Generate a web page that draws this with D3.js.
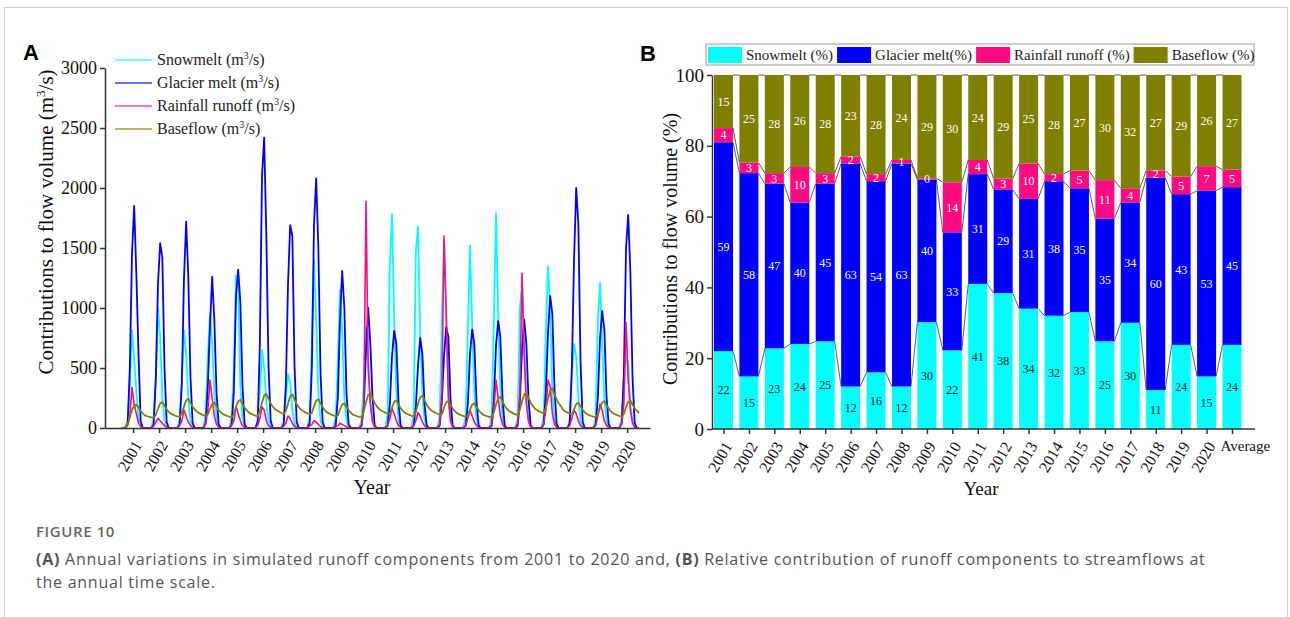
<!DOCTYPE html>
<html>
<head>
<meta charset="utf-8">
<script src="https://cdn.jsdelivr.net/npm/d3@7"></script>
<style>
  body { margin: 0; background: #fff; }
  svg { display: block; }
</style>
</head>
<body>
<svg id="fig" width="1290" height="617"></svg>

<script>
// ---------- data, panel A (monthly values, m3/s, Jan..Dec for each year) ----------
var years = [2001, 2002, 2003, 2004, 2005, 2006, 2007, 2008, 2009, 2010,
             2011, 2012, 2013, 2014, 2015, 2016, 2017, 2018, 2019, 2020];

var snowmelt = [
  [0,0,10,60,350,815,570,300,80,10,0,0],
  [0,0,10,80,420,1000,760,260,60,10,0,0],
  [0,0,10,70,380,815,620,240,60,10,0,0],
  [0,0,10,120,600,955,700,300,80,10,0,0],
  [0,0,10,90,500,1270,1200,350,80,10,0,0],
  [0,0,10,60,300,650,500,200,60,10,0,0],
  [0,0,10,50,250,450,380,150,40,10,0,0],
  [0,0,10,100,700,1400,900,300,60,10,0,0],
  [0,0,10,90,550,1150,800,250,60,10,0,0],
  [0,0,10,70,400,840,600,200,50,10,0,0],
  [0,0,10,120,1370,1780,900,300,70,10,0,0],
  [0,0,10,110,1470,1680,800,300,70,10,0,0],
  [0,0,10,100,900,1560,900,300,70,10,0,0],
  [0,0,10,100,800,1520,850,280,70,10,0,0],
  [0,0,10,120,900,1790,950,320,70,10,0,0],
  [0,0,10,90,1000,1200,700,260,60,10,0,0],
  [0,0,10,90,800,1350,1000,300,70,10,0,0],
  [0,0,10,60,450,700,600,250,60,10,0,0],
  [0,0,10,80,900,1210,700,240,60,10,0,0],
  [0,0,10,70,400,600,550,200,50,10,0,0]
];

var glacier = [
  [0,0,0,40,500,1450,1850,1290,620,60,0,0],
  [0,0,0,30,420,1200,1540,1420,500,50,0,0],
  [0,0,0,30,380,1250,1720,1250,420,40,0,0],
  [0,0,0,40,350,850,1260,900,300,30,0,0],
  [0,0,0,30,300,1100,1320,1050,350,30,0,0],
  [0,0,0,50,700,2100,2420,1600,520,60,0,0],
  [0,0,0,30,350,1200,1690,1600,520,50,0,0],
  [0,0,0,40,500,1700,2080,1500,460,50,0,0],
  [0,0,0,20,250,900,1310,1000,280,30,0,0],
  [0,0,0,20,180,650,1000,700,250,20,0,0],
  [0,0,0,20,200,600,810,700,220,20,0,0],
  [0,0,0,20,180,520,750,620,200,20,0,0],
  [0,0,0,20,220,600,840,760,240,20,0,0],
  [0,0,0,20,200,620,820,700,220,20,0,0],
  [0,0,0,20,230,690,890,760,250,20,0,0],
  [0,0,0,20,220,660,905,700,240,20,0,0],
  [0,0,0,30,300,800,1100,950,320,30,0,0],
  [0,0,0,40,500,1400,2000,1700,550,50,0,0],
  [0,0,0,30,250,750,975,820,260,30,0,0],
  [0,0,0,40,450,1500,1775,1300,420,40,0,0]
];

var rainfall = [
  [0,0,5,20,100,340,200,120,40,10,0,0],
  [0,0,5,15,50,80,60,40,20,5,0,0],
  [0,0,5,20,60,150,100,50,20,5,0,0],
  [0,0,5,30,150,400,250,100,30,5,0,0],
  [0,0,5,20,60,180,120,60,20,5,0,0],
  [0,0,5,20,80,175,150,60,20,5,0,0],
  [0,0,5,15,40,100,80,40,15,5,0,0],
  [0,0,5,15,30,60,50,30,10,5,0,0],
  [0,0,5,10,20,40,30,20,10,5,0,0],
  [0,0,5,30,200,1890,500,200,50,10,0,0],
  [0,0,5,20,80,160,120,60,20,5,0,0],
  [0,0,5,20,60,130,100,50,20,5,0,0],
  [0,0,5,30,300,1600,1000,250,50,10,0,0],
  [0,0,5,20,80,150,100,50,20,5,0,0],
  [0,0,5,20,150,400,250,100,30,5,0,0],
  [0,0,5,40,300,1290,600,200,50,10,0,0],
  [0,0,5,30,150,400,350,120,30,5,0,0],
  [0,0,5,20,80,150,120,60,20,5,0,0],
  [0,0,5,20,100,200,150,60,20,5,0,0],
  [0,0,5,30,200,880,400,150,40,5,0,0]
];

var baseflow = [
  [0,0,5,30,90,150,185,195,170,140,120,105],
  [98,92,88,85,110,160,205,215,185,155,133,118],
  [110,102,96,92,120,180,230,245,210,176,152,134],
  [124,115,106,100,115,160,200,210,180,150,130,115],
  [107,100,93,88,115,175,222,235,200,168,145,128],
  [118,110,102,96,140,210,270,285,242,205,177,156],
  [145,134,125,118,140,205,265,280,238,200,173,152],
  [141,130,122,115,125,180,228,240,205,172,148,130],
  [121,112,104,98,105,155,195,205,175,147,127,112],
  [104,97,92,88,140,215,275,290,246,208,180,158],
  [146,136,127,120,120,170,218,230,196,165,143,126],
  [117,109,102,97,135,200,256,270,230,194,167,148],
  [137,127,119,113,115,168,213,225,192,162,140,123],
  [114,106,99,94,105,153,195,205,175,147,127,112],
  [104,97,92,88,130,195,247,260,221,186,161,142],
  [132,122,114,108,150,220,280,295,250,211,182,161],
  [149,138,129,122,165,245,313,330,280,236,204,180],
  [150,138,128,120,110,157,199,210,179,150,130,115],
  [107,100,94,90,115,168,213,225,191,161,139,123],
  [114,106,100,95,115,172,218,230,196,165,142,125]
];

var yTicksA = [0, 500, 1000, 1500, 2000, 2500, 3000];

// ---------- data, panel B (% of annual flow) ----------
var categories = ["2001","2002","2003","2004","2005","2006","2007","2008","2009","2010",
                  "2011","2012","2013","2014","2015","2016","2017","2018","2019","2020","Average"];
var snowPct    = [22,15,23,24,25,12,16,12,30,22,41,38,34,32,33,25,30,11,24,15,24];
var glacierPct = [59,58,47,40,45,63,54,63,40,33,31,29,31,38,35,35,34,60,43,53,45];
var rainPct    = [4,3,3,10,3,2,2,1,0.4,14,4,3,10,2,5,11,4,2,5,7,5];
var basePct    = [15,25,28,26,28,23,28,24,29,30,24,29,25,28,27,30,32,27,29,26,27];
var rainLabels = [4,3,3,10,3,2,2,1,0,14,4,3,10,2,5,11,4,2,5,7,5];
var yTicksB = [0, 20, 40, 60, 80, 100];

var colSnow = "#00ffff", colGlacier = "#0000ff", colRain = "#ff0a80", colBase = "#808000";
var serif = "'Liberation Serif', 'Times New Roman', serif";
var sans = "'Liberation Sans', Arial, sans-serif";
var capFont = "'Open Sans', 'Noto Sans', sans-serif";

var svg = d3.select("#fig");

// frame
svg.append("path").attr("d", "M4.5,617V7.5H1287.5V617")
  .attr("fill", "none").attr("stroke", "#cfcfcf").attr("stroke-width", 1);

// =================== panel A ===================
var xA = d3.scaleLinear().domain([2000.42, 2021.38]).range([105, 650]);
var yA = d3.scaleLinear().domain([0, 3000]).range([428, 68]);

function monthly(arr) {
  var pts = [];
  arr.forEach(function(yr, i) {
    yr.forEach(function(v, m) { pts.push({t: years[i] + (m + 0.5) / 12, v: v}); });
  });
  return pts;
}

var lineA = d3.line().x(function(d) { return xA(d.t); }).y(function(d) { return yA(d.v); });

var seriesA = [
  {name: "Snowmelt", data: snowmelt, color: colSnow, w: 1.8},
  {name: "Glacier melt", data: glacier, color: colGlacier, w: 1.8},
  {name: "Rainfall runoff", data: rainfall, color: colRain, w: 1.6},
  {name: "Baseflow", data: baseflow, color: colBase, w: 1.8}
];

var gA = svg.append("g");
seriesA.forEach(function(s) {
  gA.append("path").datum(monthly(s.data))
    .attr("d", lineA).attr("fill", "none")
    .attr("stroke", s.color).attr("stroke-width", s.w)
    .attr("stroke-linejoin", "round");
});

var axA_x = svg.append("g").attr("transform", "translate(0,428)")
  .call(d3.axisBottom(xA).tickValues(years.map(function(y) { return y + 0.5; }))
    .tickFormat(function(d) { return Math.floor(d); }).tickSize(5).tickSizeOuter(0));
axA_x.selectAll("text")
  .attr("x", 0).attr("y", 0).attr("dy", "0.35em")
  .attr("transform", "translate(4,14) rotate(-60)")
  .style("text-anchor", "end").style("font-size", "16px");

var axA_y = svg.append("g").attr("transform", "translate(105,0)")
  .call(d3.axisLeft(yA).tickValues(yTicksA).tickFormat(d3.format("d")).tickSize(5).tickSizeOuter(0));
axA_y.selectAll("text").style("font-size", "18px");

[axA_x, axA_y].forEach(function(a) {
  a.attr("font-family", null);
  a.selectAll("path,line").attr("stroke", "#333").attr("stroke-width", 1.5);
  a.selectAll("text").attr("fill", "#111").style("font-family", serif);
});

// y title with superscript
var tA = svg.append("text").attr("transform", "translate(53,222) rotate(-90)")
  .attr("text-anchor", "middle").style("font-family", serif).style("font-size", "21px").attr("fill", "#111");
tA.append("tspan").text("Contributions to flow volume (m");
tA.append("tspan").text("3").attr("dy", -8).style("font-size", "13px");
tA.append("tspan").text("/s)").attr("dy", 8);

svg.append("text").attr("x", 372).attr("y", 494).attr("text-anchor", "middle")
  .style("font-family", serif).style("font-size", "20px").attr("fill", "#111").text("Year");

// legend A
seriesA.forEach(function(s, i) {
  var y = 60 + i * 23;
  svg.append("line").attr("x1", 115).attr("x2", 152).attr("y1", y).attr("y2", y)
    .attr("stroke", s.color).attr("stroke-width", 1.5).attr("opacity", 0.75);
  var t = svg.append("text").attr("x", 157).attr("y", y + 5)
    .style("font-family", serif).style("font-size", "16px").attr("fill", "#222");
  t.append("tspan").text(s.name + " (m");
  t.append("tspan").text("3").attr("dy", -6).style("font-size", "10px");
  t.append("tspan").text("/s)").attr("dy", 6);
});

svg.append("text").attr("x", 23).attr("y", 60)
  .style("font-family", sans).style("font-weight", "bold").style("font-size", "22px").text("A");

// =================== panel B ===================
var xB = d3.scalePoint().domain(categories).range([723.5, 1232]);
var yB = d3.scaleLinear().domain([0, 100]).range([429, 75]);
var bw = 19;

var rows = categories.map(function(c, i) {
  return {cat: c, snow: snowPct[i], glacier: glacierPct[i], rain: rainPct[i], base: basePct[i]};
});
var keys = ["snow", "glacier", "rain", "base"];
var colors = {snow: colSnow, glacier: colGlacier, rain: colRain, base: colBase};
var stacked = d3.stack().keys(keys).offset(d3.stackOffsetExpand)(rows);

var gB = svg.append("g");
stacked.forEach(function(layer) {
  gB.selectAll(null).data(layer).enter().append("rect")
    .attr("x", function(d) { return xB(d.data.cat) - bw / 2; })
    .attr("width", bw)
    .attr("y", function(d) { return yB(d[1] * 100); })
    .attr("height", function(d) { return yB(d[0] * 100) - yB(d[1] * 100); })
    .attr("fill", colors[layer.key]);
});

// connecting lines between bar segment tops
stacked.forEach(function(layer) {
  for (var i = 0; i < layer.length - 1; i++) {
    gB.append("line")
      .attr("x1", xB(layer[i].data.cat) + bw / 2).attr("y1", yB(layer[i][1] * 100))
      .attr("x2", xB(layer[i + 1].data.cat) - bw / 2).attr("y2", yB(layer[i + 1][1] * 100))
      .attr("stroke", "#333").attr("stroke-width", 0.8);
  }
});

// segment labels
stacked.forEach(function(layer) {
  var key = layer.key;
  gB.selectAll(null).data(layer).enter().append("text")
    .attr("x", function(d) { return xB(d.data.cat); })
    .attr("y", function(d) { return yB((d[0] + d[1]) / 2 * 100); })
    .attr("dy", "0.35em").attr("text-anchor", "middle")
    .style("font-family", serif).style("font-size", "12px")
    .attr("fill", key === "snow" ? "#111" : "#fff")
    .text(function(d, i) {
      if (key === "snow") return snowPct[i];
      if (key === "glacier") return glacierPct[i];
      if (key === "rain") return rainLabels[i];
      return basePct[i];
    });
});

var axB_x = svg.append("g").attr("transform", "translate(0,429)")
  .call(d3.axisBottom(xB).tickSize(5).tickSizeOuter(0));
axB_x.select(".domain").remove();
axB_x.append("line").attr("x1", 712).attr("x2", 1255).attr("y1", 0).attr("y2", 0);
axB_x.selectAll("text")
  .attr("x", 0).attr("y", 0).attr("dy", "0.35em")
  .attr("transform", function(d) { return d === "Average" ? "translate(-12,17)" : "translate(4,14) rotate(-60)"; })
  .style("text-anchor", function(d) { return d === "Average" ? "start" : "end"; })
  .style("font-size", function(d) { return d === "Average" ? "15px" : "16px"; });

var axB_y = svg.append("g").attr("transform", "translate(712,0)")
  .call(d3.axisLeft(yB).tickValues(yTicksB).tickSize(5).tickSizeOuter(0));
axB_y.selectAll("text").style("font-size", "19px");

[axB_x, axB_y].forEach(function(a) {
  a.attr("font-family", null);
  a.selectAll("path,line").attr("stroke", "#333").attr("stroke-width", 1.5);
  a.selectAll("text").attr("fill", "#111").style("font-family", serif);
});

svg.append("text").attr("transform", "translate(677,249) rotate(-90)")
  .attr("text-anchor", "middle").style("font-family", serif).style("font-size", "20px").attr("fill", "#111")
  .text("Contributions to flow volume (%)");

svg.append("text").attr("x", 981).attr("y", 495).attr("text-anchor", "middle")
  .style("font-family", serif).style("font-size", "19px").attr("fill", "#111").text("Year");

// legend B
var legB = svg.append("g");
legB.append("rect").attr("x", 706).attr("y", 44).attr("width", 548).attr("height", 21)
  .attr("fill", "#fff").attr("stroke", "#999").attr("stroke-width", 1);
var legNames = ["Snowmelt (%)", "Glacier melt(%)", "Rainfall runoff (%)", "Baseflow (%)"];
var lx = 708;
keys.forEach(function(k, i) {
  legB.append("rect").attr("x", lx).attr("y", 47).attr("width", 34).attr("height", 16)
    .attr("fill", colors[k]);
  var t = legB.append("text").attr("x", lx + 38).attr("y", 60)
    .style("font-family", serif).style("font-size", "15px").attr("fill", "#222").text(legNames[i]);
  lx = lx + 38 + t.node().getComputedTextLength() + 4;
});

svg.append("text").attr("x", 640).attr("y", 61)
  .style("font-family", sans).style("font-weight", "bold").style("font-size", "22px").text("B");

// =================== caption ===================
svg.append("text").attr("x", 36).attr("y", 537)
  .style("font-family", capFont).style("font-size", "15px").style("letter-spacing", "0.6px")
  .style("font-weight", "600").attr("fill", "#666").text("FIGURE 10");
var c1 = svg.append("text").attr("x", 36).attr("y", 565)
  .style("font-family", capFont).style("font-size", "16px").style("letter-spacing", "0.75px")
  .attr("fill", "#555");
c1.append("tspan").style("font-weight", "bold").text("(A)");
c1.append("tspan").text(" Annual variations in simulated runoff components from 2001 to 2020 and, ");
c1.append("tspan").style("font-weight", "bold").text("(B)");
c1.append("tspan").text(" Relative contribution of runoff components to streamflows at");
svg.append("text").attr("x", 36).attr("y", 588)
  .style("font-family", capFont).style("font-size", "16px").style("letter-spacing", "0.75px")
  .attr("fill", "#555").text("the annual time scale.");
</script>
</body>
</html>
